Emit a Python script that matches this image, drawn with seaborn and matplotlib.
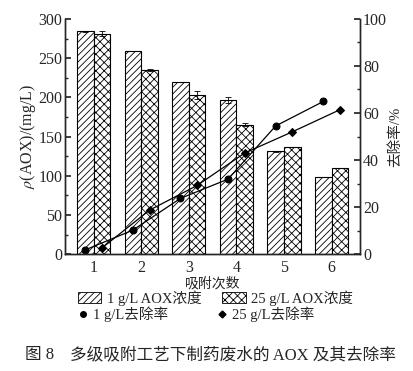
import numpy as np
import pandas as pd
import matplotlib
matplotlib.use("Agg")
import matplotlib.pyplot as plt
from matplotlib.patches import Patch
from matplotlib.lines import Line2D
import seaborn as sns

# data
rounds = ["1", "2", "3", "4", "5", "6"]
aox_1g = [284, 259, 220, 197, 131, 99]
aox_25g = [281, 235, 203, 165, 137, 110]
err_1g = [1, 0, 0, 4, 1, 0]
err_25g = [3, 1, 5, 2, 0, 0]
rate_1g = [1.8, 10.2, 23.7, 31.9, 54.5, 64.9]
rate_25g = [2.6, 18.7, 29.2, 43.0, 52.0, 61.4]
series = ["1 g/L AOX浓度", "25 g/L AOX浓度"]
rate_labels = ["1 g/L去除率", "25 g/L去除率"]

sns.set_theme(style="ticks")
plt.rcParams["font.family"] = ["Liberation Serif", "Noto Sans CJK SC"]
plt.rcParams["mathtext.fontset"] = "stix"
plt.rcParams["hatch.linewidth"] = 0.6
plt.rcParams["axes.linewidth"] = 1.0

df = pd.DataFrame({
    "round": rounds * 2,
    "aox": aox_1g + aox_25g,
    "series": [series[0]] * 6 + [series[1]] * 6,
})

fig = plt.figure(figsize=(4.14, 3.71), dpi=100)
ax = fig.add_axes([0.157, 0.315, 0.713, 0.634])

sns.barplot(data=df, x="round", y="aox", hue="series", ax=ax,
            width=0.7, edgecolor="black", linewidth=0.8,
            palette=["white", "white"], legend=False, errorbar=None)
hatches = ["/////", "xxxx"]
for cont, h in zip(ax.containers, hatches):
    for p in cont:
        p.set_hatch(h)
        p.set_facecolor("white")
        p.set_edgecolor("black")

w = 0.35
xpos = np.arange(len(rounds))
ax.errorbar(xpos - w / 2, aox_1g, yerr=err_1g, fmt="none", ecolor="black",
            elinewidth=0.6, capsize=2, capthick=0.6)
ax.errorbar(xpos + w / 2, aox_25g, yerr=err_25g, fmt="none", ecolor="black",
            elinewidth=0.6, capsize=2, capthick=0.6)

ax.set_xlim(-0.6, 5.6)
ax.set_ylim(0, 300)
ax.set_yticks(range(0, 301, 50))
ax.set_yticks(range(25, 300, 50), minor=True)
ax.tick_params(axis="y", which="both", direction="in", labelsize=11.5, pad=2)
ax.tick_params(axis="y", which="major", length=4)
ax.tick_params(axis="y", which="minor", length=2)
ax.tick_params(axis="x", length=0, labelsize=11.5, pad=4)
ax.set_xlabel("吸附次数", fontsize=10, labelpad=1)
ax.set_ylabel(r"$\rho$(AOX)/(mg/L)", fontsize=11.5, labelpad=0)
ax.spines["top"].set_visible(False)

ax2 = ax.twinx()
sns.lineplot(x=xpos - w / 2, y=rate_1g, ax=ax2, color="black", marker="o",
             markersize=5, linewidth=0.9, markeredgecolor="black")
sns.lineplot(x=xpos + w / 2, y=rate_25g, ax=ax2, color="black", marker="D",
             markersize=4, linewidth=0.9, markeredgecolor="black")
ax2.set_ylim(0, 100)
ax2.set_yticks(range(0, 101, 20))
ax2.set_yticks(range(10, 100, 20), minor=True)
ax2.tick_params(axis="y", which="both", direction="in", labelsize=11.5, pad=2)
ax2.tick_params(axis="y", which="major", length=4)
ax2.tick_params(axis="y", which="minor", length=2)
ax2.set_ylabel("去除率/%", fontsize=10.5, labelpad=1)
ax2.spines["top"].set_visible(False)

# legend row 1: bars
bar_handles = [
    Patch(facecolor="white", edgecolor="black", hatch="/////", linewidth=0.6),
    Patch(facecolor="white", edgecolor="black", hatch="xxxx", linewidth=0.6),
]
fig.legend(bar_handles, series, ncol=2, frameon=False, fontsize=10.5,
           loc="center left", bbox_to_anchor=(78 / 414, 1 - 298 / 371),
           borderpad=0, borderaxespad=0, handlelength=1.6,
           handleheight=0.75, columnspacing=1.4, handletextpad=0.4)
# legend row 2: markers
mk_handles = [
    Line2D([], [], color="black", marker="o", markersize=4, linestyle="none"),
    Line2D([], [], color="black", marker="D", markersize=3.5, linestyle="none"),
]
fig.legend(mk_handles, rate_labels, ncol=2, frameon=False, fontsize=10.5,
           loc="center left", bbox_to_anchor=(78 / 414, 1 - 314 / 371),
           borderpad=0, borderaxespad=0, handlelength=0.7,
           columnspacing=3.4, handletextpad=0.3)

fig.text(25 / 414, 1 - 355 / 371, "图 8", fontsize=12, ha="left", va="center")
fig.text(70 / 414, 1 - 355 / 371, "多级吸附工艺下制药废水的 AOX 及其去除率",
         fontsize=12, ha="left", va="center")

fig.savefig("out.png", dpi=100)
